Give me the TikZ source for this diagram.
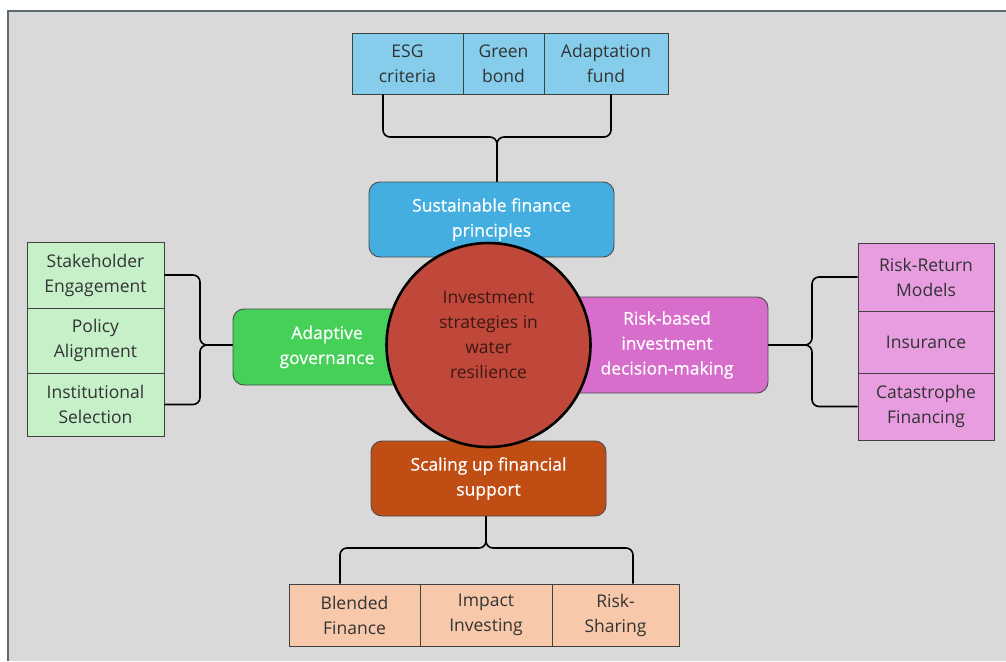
\documentclass[tikz,border=0pt]{standalone}
\usepackage{fontspec}
\setmainfont{Open Sans}
\newfontfamily\boldish{Open Sans}[FakeBold=0.5]
\usetikzlibrary{calc}
\definecolor{bgc}{HTML}{D9D9D9}
\definecolor{frame}{HTML}{5A6A70}
\definecolor{blueM}{HTML}{45AEE0}
\definecolor{blueS}{HTML}{86CDEC}
\definecolor{greenM}{HTML}{45D058}
\definecolor{greenS}{HTML}{C6F0C8}
\definecolor{pinkM}{HTML}{D86ECC}
\definecolor{pinkS}{HTML}{E79DE0}
\definecolor{orangeM}{HTML}{C04E14}
\definecolor{orangeS}{HTML}{F8C8AA}
\definecolor{circ}{HTML}{C0483A}
\definecolor{circtext}{HTML}{3E1814}
\definecolor{subtext}{HTML}{333333}
\tikzset{
  sub/.style={draw=black!75, line width=0.9pt, align=center, text=subtext,
    font=\fontsize{17.5}{25}\selectfont, inner sep=0pt},
  mainbox/.style={draw=black!70, line width=0.9pt, rounded corners=11pt, align=center,
    text=white, font=\boldish\fontsize{17.5}{25}\selectfont, inner sep=0pt},
  brace/.style={draw=black, line width=1.6pt, rounded corners=7pt},
}
\begin{document}
\begin{tikzpicture}[x=1pt,y=-1pt]
\useasboundingbox (0,0) rectangle (1006,661);
\fill[white] (0,0) rectangle (1006,661);
\fill[bgc] (8,11) rectangle (1006,661);
\draw[frame, line width=1.2pt] (8,661) -- (8,11) -- (1006,11);

% main boxes (behind circle)
\node[mainbox, fill=blueM, minimum width=245pt, minimum height=75pt] (sfp) at (491.5,219.5) {Sustainable finance\\principles};
\node[mainbox, fill=greenM, minimum width=188pt, minimum height=76pt] (ag) at (327,347) {Adaptive\\governance};
\node[mainbox, fill=pinkM, minimum width=202pt, minimum height=96pt] (rb) at (667,345) {Risk-based\\investment\\decision-making};
\node[mainbox, fill=orangeM, minimum width=235pt, minimum height=75pt] (su) at (488.5,478.5) {Scaling up financial\\support};

% centre circle
\node[circle, draw=black, line width=2.6pt, fill=circ, minimum size=204pt, inner sep=0pt] (c) at (488.5,345) {};
\node[align=center, text=circtext, font=\fontsize{17.5}{25}\selectfont, inner sep=0pt] (ct) at (488.5,334.5) {Investment\\strategies in\\water\\resilience};

% top sub boxes
\node[sub, fill=blueS, minimum width=111pt, minimum height=61pt] (esg) at (407.5,63.5) {ESG\\criteria};
\node[sub, fill=blueS, minimum width=81pt, minimum height=61pt] (gb) at (503.5,63.5) {Green\\bond};
\node[sub, fill=blueS, minimum width=124pt, minimum height=61pt] (af) at (606,63.5) {Adaptation\\fund};

% left sub boxes
\node[sub, fill=greenS, minimum width=137pt, minimum height=66pt] (se) at (95.5,275) {Stakeholder\\Engagement};
\node[sub, fill=greenS, minimum width=137pt, minimum height=65pt] (pa) at (95.5,340.5) {Policy\\Alignment};
\node[sub, fill=greenS, minimum width=137pt, minimum height=63pt] (is) at (95.5,404.5) {Institutional\\Selection};

% right sub boxes
\node[sub, fill=pinkS, minimum width=136pt, minimum height=68pt] (rr) at (926,277) {Risk-Return\\Models};
\node[sub, fill=pinkS, minimum width=136pt, minimum height=62pt] (ins) at (926,342) {Insurance};
\node[sub, fill=pinkS, minimum width=136pt, minimum height=67pt] (cf) at (926,406.5) {Catastrophe\\Financing};

% bottom sub boxes
\node[sub, fill=orangeS, minimum width=131pt, minimum height=62pt] (bf) at (354.5,615) {Blended\\Finance};
\node[sub, fill=orangeS, minimum width=132pt, minimum height=62pt] (ii) at (486,615) {Impact\\Investing};
\node[sub, fill=orangeS, minimum width=127pt, minimum height=62pt] (rs) at (615.5,615) {Risk-\\Sharing};

% braces
\coordinate (tj) at (497,137);
\draw[brace] ($(esg.south)+(-24.5,0)$) |- (tj) -- (tj |- sfp.north);
\draw[brace] ($(af.south)+(5,0)$) |- (tj) -- (tj |- sfp.north);

\coordinate (lj) at (200,345);
\draw[brace] (se.east) -| (lj) -- (lj -| ag.west);
\draw[brace] (is.east) -| (lj) -- (lj -| ag.west);

\coordinate (rj) at (812,345);
\draw[brace] (rr.west) -| (rj) -- (rj -| rb.east);
\draw[brace] (cf.west) -| (rj) -- (rj -| rb.east);

\coordinate (bj) at (486,548);
\draw[brace] (bj |- su.south) -- (bj) -| ($(bf.north)+(-14.5,0)$);
\draw[brace] (bj |- su.south) -- (bj) -| ($(rs.north)+(17.5,0)$);
\end{tikzpicture}
\end{document}
